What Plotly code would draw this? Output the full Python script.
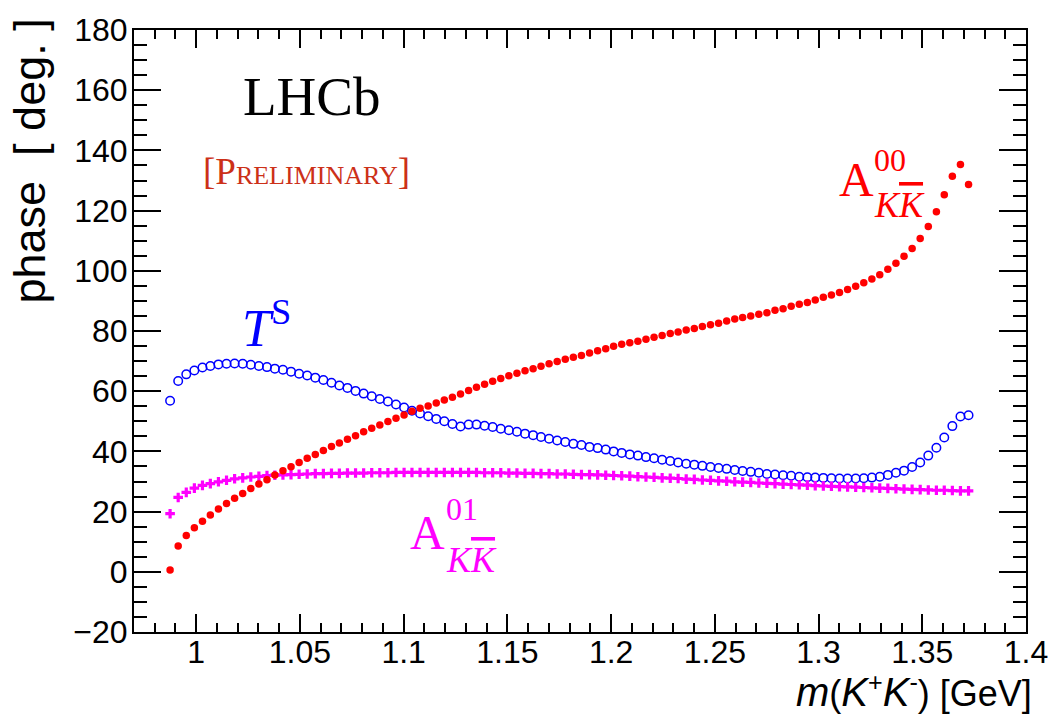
import plotly.graph_objects as go

# m(K+K-) bin centres [GeV]
mass = [
    0.9874, 0.9913, 0.9952, 0.9991, 1.0030, 1.0068, 1.0107, 1.0146, 1.0185, 1.0224,
    1.0263, 1.0302, 1.0341, 1.0379, 1.0418, 1.0457, 1.0496, 1.0535, 1.0574, 1.0613,
    1.0652, 1.0690, 1.0729, 1.0768, 1.0807, 1.0846, 1.0885, 1.0924, 1.0963, 1.1002,
    1.1040, 1.1079, 1.1118, 1.1157, 1.1196, 1.1235, 1.1274, 1.1313, 1.1351, 1.1390,
    1.1429, 1.1468, 1.1507, 1.1546, 1.1585, 1.1624, 1.1662, 1.1701, 1.1740, 1.1779,
    1.1818, 1.1857, 1.1896, 1.1935, 1.1974, 1.2012, 1.2051, 1.2090, 1.2129, 1.2168,
    1.2207, 1.2246, 1.2285, 1.2323, 1.2362, 1.2401, 1.2440, 1.2479, 1.2518, 1.2557,
    1.2596, 1.2634, 1.2673, 1.2712, 1.2751, 1.2790, 1.2829, 1.2868, 1.2907, 1.2946,
    1.2984, 1.3023, 1.3062, 1.3101, 1.3140, 1.3179, 1.3218, 1.3257, 1.3295, 1.3334,
    1.3373, 1.3412, 1.3451, 1.3490, 1.3529, 1.3568, 1.3606, 1.3645, 1.3684, 1.3723,
]

# phase of A^00_{KKbar} [deg]
phase_a00 = [
    0.6, 8.6, 12.1, 14.6, 16.8, 18.9, 20.9, 22.7, 24.4, 26.0,
    27.7, 29.2, 30.6, 32.2, 33.6, 34.9, 36.3, 37.7, 39.0, 40.3,
    41.6, 42.8, 44.0, 45.2, 46.5, 47.7, 48.8, 49.9, 51.0, 52.1,
    53.3, 54.3, 55.1, 56.1, 57.1, 58.0, 59.1, 60.2, 61.3, 62.3,
    63.3, 64.2, 65.1, 66.0, 66.8, 67.5, 68.3, 69.1, 69.9, 70.6,
    71.3, 71.9, 72.7, 73.4, 74.1, 74.9, 75.6, 76.1, 76.6, 77.3,
    77.9, 78.5, 79.2, 79.7, 80.3, 80.8, 81.5, 82.1, 82.6, 83.3,
    84.0, 84.5, 85.0, 85.6, 86.1, 86.9, 87.4, 88.2, 88.9, 89.5,
    90.3, 91.2, 92.0, 92.8, 93.8, 94.9, 96.0, 97.3, 98.7, 100.5,
    102.5, 104.8, 107.4, 110.7, 114.7, 119.6, 125.3, 131.4, 135.3, 128.7,
]

# phase of T^S [deg]
phase_ts = [
    56.8, 63.4, 65.6, 66.9, 67.9, 68.4, 68.9, 69.1, 69.2, 69.1,
    68.8, 68.4, 68.0, 67.5, 67.1, 66.5, 65.8, 65.2, 64.5, 63.7,
    62.8, 61.9, 61.1, 60.1, 59.2, 58.3, 57.4, 56.6, 55.6, 54.6,
    53.5, 52.6, 51.7, 50.8, 50.0, 49.1, 48.3, 48.9, 48.9, 48.5,
    48.1, 47.5, 47.0, 46.5, 45.9, 45.4, 44.8, 44.2, 43.6, 43.1,
    42.5, 42.1, 41.5, 41.1, 40.6, 40.0, 39.5, 39.0, 38.6, 38.1,
    37.7, 37.2, 36.8, 36.3, 35.9, 35.6, 35.2, 34.8, 34.5, 34.2,
    33.8, 33.5, 33.2, 32.9, 32.5, 32.3, 32.1, 31.9, 31.6, 31.4,
    31.3, 31.2, 31.1, 31.0, 31.0, 31.0, 31.1, 31.3, 31.6, 32.2,
    32.9, 33.6, 34.8, 36.3, 38.6, 41.2, 44.6, 48.4, 51.6, 52.0,
]

# phase of A^01_{KKbar} [deg]
phase_a01 = [
    19.3, 24.7, 26.4, 27.8, 28.7, 29.3, 29.9, 30.4, 30.9, 31.2,
    31.5, 31.7, 32.0, 32.1, 32.2, 32.3, 32.4, 32.5, 32.6, 32.6,
    32.7, 32.7, 32.8, 32.8, 32.8, 32.9, 32.9, 32.9, 33.0, 33.0,
    33.0, 33.0, 33.0, 33.0, 33.0, 33.0, 33.0, 33.0, 33.0, 32.9,
    32.9, 32.9, 32.8, 32.8, 32.7, 32.7, 32.6, 32.6, 32.5, 32.5,
    32.4, 32.3, 32.3, 32.2, 32.1, 32.0, 31.9, 31.8, 31.6, 31.5,
    31.4, 31.2, 31.1, 31.0, 30.8, 30.7, 30.5, 30.4, 30.2, 30.1,
    29.9, 29.8, 29.7, 29.5, 29.4, 29.3, 29.1, 29.0, 28.9, 28.8,
    28.6, 28.5, 28.4, 28.3, 28.2, 28.1, 28.0, 27.9, 27.8, 27.7,
    27.6, 27.5, 27.4, 27.3, 27.2, 27.1, 27.1, 27.0, 26.9, 26.9,
]

x_tick_vals = [1.0, 1.05, 1.1, 1.15, 1.2, 1.25, 1.3, 1.35, 1.4]
x_tick_text = ["1", "1.05", "1.1", "1.15", "1.2", "1.25", "1.3", "1.35", "1.4"]
y_tick_vals = [-20, 0, 20, 40, 60, 80, 100, 120, 140, 160, 180]
y_tick_text = ["\u221220", "0", "20", "40", "60", "80", "100", "120", "140", "160", "180"]

SANS = "Liberation Sans, Arial, Helvetica, sans-serif"
SERIF = "Liberation Serif, Times New Roman, serif"
RED = "#ff0000"
BLUE = "#0000ff"
MAGENTA = "#ff00ff"

fig = go.Figure()

fig.add_trace(go.Scatter(
    x=mass, y=phase_ts, mode="markers", name="T^S",
    marker=dict(symbol="circle-open", size=8.5, color=BLUE, line=dict(width=1.5, color=BLUE)),
))
fig.add_trace(go.Scatter(
    x=mass, y=phase_a01, mode="markers", name="A01",
    marker=dict(symbol="cross", size=8, color=MAGENTA, line=dict(width=0)),
))
fig.add_trace(go.Scatter(
    x=mass, y=phase_a00, mode="markers", name="A00",
    marker=dict(symbol="circle", size=7.5, color=RED, line=dict(width=0)),
))

axis_common = dict(
    showline=True, linecolor="black", linewidth=2, mirror="allticks",
    ticks="inside", tickcolor="black", tickwidth=1.5,
    showgrid=False, zeroline=False,
    tickfont=dict(family=SANS, size=32, color="black"),
)

fig.update_xaxes(
    range=[0.97, 1.4], tickmode="array", tickvals=x_tick_vals, ticktext=x_tick_text,
    ticklen=18, ticklabelstandoff=-9,
    minor=dict(ticks="inside", ticklen=9, dtick=0.01, tick0=1.0, tickcolor="black", tickwidth=1.5),
    **axis_common,
)
fig.update_yaxes(
    range=[-20, 180], tickmode="array", tickvals=y_tick_vals, ticktext=y_tick_text,
    ticklen=27, ticklabelstandoff=-2,
    minor=dict(ticks="inside", ticklen=13, dtick=5, tick0=0, tickcolor="black", tickwidth=1.5),
    **axis_common,
)

# italic pieces of the mass title are set a little larger, ROOT-style
IT = '<span style="font-size:40px"><i>{}</i></span>'
x_title = (IT.format("m") + "(" + IT.format("K") + "<sup>+</sup>"
           + IT.format("K") + "<sup>-</sup>) [GeV]")

annotations = [
    # axis titles
    dict(text="phase\u00a0\u00a0[\u00a0deg.\u00a0]", xref="paper", yref="paper",
         x=0, y=1, xshift=-105, yshift=13, xanchor="center", yanchor="top", textangle=-90,
         font=dict(family=SANS, size=45, color="black"), showarrow=False),
    dict(text=x_title, xref="paper", yref="paper",
         x=1, y=0, xshift=8, yshift=-34, xanchor="right", yanchor="top",
         font=dict(family=SANS, size=36, color="black"), showarrow=False),
    # experiment label
    dict(text="LHCb", x=1.0216, y=158.0, xanchor="left", yanchor="middle",
         font=dict(family=SERIF, size=55, color="black"), showarrow=False),
    dict(text="[Preliminary]", x=1.0025, y=133.0, xanchor="left", yanchor="middle",
         font=dict(family=SERIF, size=37, color="#cc3018", variant="small-caps"), showarrow=False),
    # T^S
    dict(text="<i>T</i><sup>S</sup>", x=1.034, y=82, xanchor="center", yanchor="middle",
         font=dict(family=SERIF, size=52, color=BLUE), showarrow=False),
    # A^00_{KKbar}
    dict(text="A", x=1.3185, y=130.2, xanchor="center", yanchor="middle",
         font=dict(family=SERIF, size=48, color=RED), showarrow=False),
    dict(text="00", x=1.3258, y=136.8, xanchor="left", yanchor="middle",
         font=dict(family=SERIF, size=32, color=RED), showarrow=False),
    dict(text='<i>K</i><span style="text-decoration:overline"><i>K</i></span>', x=1.3258, y=121.9,
         xanchor="left", yanchor="middle",
         font=dict(family=SERIF, size=36, color=RED), showarrow=False),
    # A^01_{KKbar}
    dict(text="A", x=1.1115, y=13.2, xanchor="center", yanchor="middle",
         font=dict(family=SERIF, size=48, color=MAGENTA), showarrow=False),
    dict(text="01", x=1.1196, y=21.0, xanchor="left", yanchor="middle",
         font=dict(family=SERIF, size=32, color=MAGENTA), showarrow=False),
    dict(text='<i>K</i><span style="text-decoration:overline"><i>K</i></span>', x=1.1196, y=4.0,
         xanchor="left", yanchor="middle",
         font=dict(family=SERIF, size=36, color=MAGENTA), showarrow=False),
]

fig.update_layout(
    width=1060, height=715,
    margin=dict(l=134, r=27, t=25, b=83),
    paper_bgcolor="white", plot_bgcolor="white",
    showlegend=False,
    annotations=annotations,
)

fig.write_html("out.html")
